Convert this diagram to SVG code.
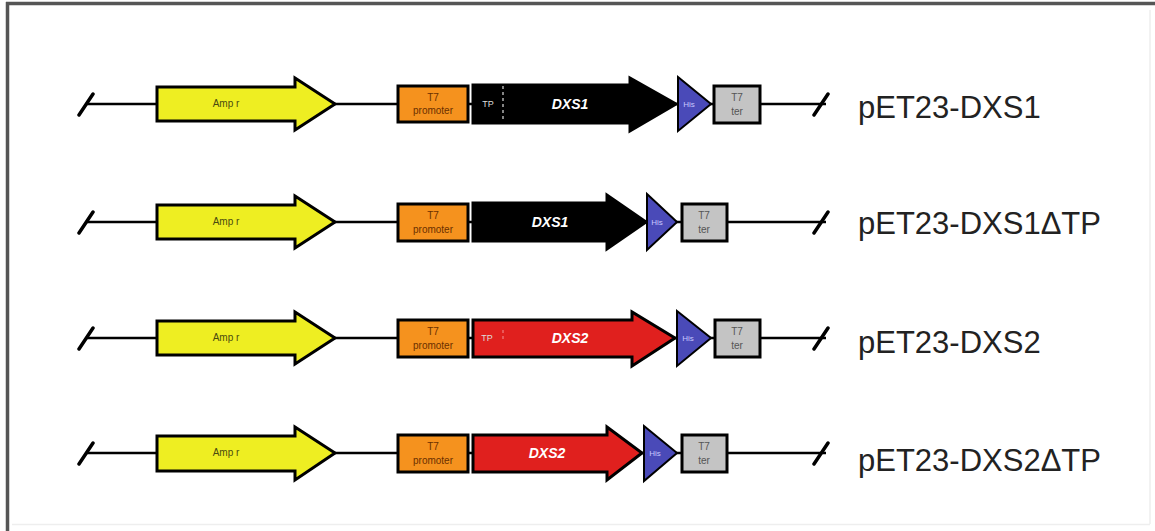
<svg xmlns="http://www.w3.org/2000/svg" width="1155" height="531" viewBox="0 0 1155 531">
<style>
.bb{stroke:#000;stroke-width:2.5;fill:none}
.sl{stroke:#000;stroke-width:3.5;fill:none;stroke-linecap:round}
.amp{fill:#eeee22;stroke:#000;stroke-width:3;stroke-linejoin:miter}
.pro{fill:#f5921e;stroke:#000;stroke-width:3}
.blk{fill:#000;stroke:#000;stroke-width:3}
.red{fill:#e0201e;stroke:#000;stroke-width:3}
.his{fill:#4a4ab8;stroke:#000;stroke-width:2}
.ter{fill:#c4c4c4;stroke:#000;stroke-width:3}
.t{font-family:"Liberation Sans",Arial,sans-serif;text-anchor:middle}
.ta{font-size:10px;fill:#4a4a10}
.tp{font-size:10px;fill:#6a3000}
.tt{font-size:10px;fill:#555}
.th{font-size:8px;fill:#c8c8ff}
.tg{font-size:14px;font-weight:bold;font-style:italic;fill:#fff}
.ts{font-size:9px;fill:#ddd}
.lab{font-family:"Liberation Sans",Arial,sans-serif;font-size:31px;fill:#222}
</style>
<rect x="0" y="0" width="1155" height="531" fill="#fff"/>
<line x1="6" y1="3.5" x2="1155" y2="3.5" stroke="#555" stroke-width="3.5"/>
<line x1="7.5" y1="2" x2="7.5" y2="531" stroke="#555" stroke-width="3.5"/>
<line x1="1150" y1="10" x2="1150" y2="524" stroke="#eee" stroke-width="1.5"/>
<line x1="12" y1="524.5" x2="1150" y2="524.5" stroke="#eee" stroke-width="1.5"/>

<g id="connectors">
<line class="bb" x1="86" y1="104" x2="826" y2="104"/>
<line class="bb" x1="86" y1="222" x2="826" y2="222"/>
<line class="bb" x1="86" y1="338" x2="826" y2="338"/>
<line class="bb" x1="86" y1="453" x2="826" y2="453"/>
<path class="sl" d="M79 115L93 94M814 115L828 94M79 233L93 212M814 233L828 212M79 349L93 328M814 349L828 328M79 464L93 443M814 464L828 443"/>
</g>

<g id="row1">
<g id="amp1"><polygon class="amp" points="157,87 295,87 295,78 335,104 295,130 295,121 157,121"/><text class="t ta" x="226" y="107">Amp r</text></g>
<g id="prom1"><rect class="pro" x="398" y="86" width="70" height="36"/><text class="t tp" x="433" y="101">T7</text><text class="t tp" x="433" y="114">promoter</text></g>
<g id="gene1"><polygon class="blk" points="473,85 630,85 630,78 676,104 630,131 630,123 473,123"/><line x1="503" y1="86" x2="503" y2="122" stroke="#ddd" stroke-width="1.2" stroke-dasharray="3,3"/><text class="t ts" x="488" y="107">TP</text><text class="t tg" x="570" y="109">DXS1</text></g>
<g id="his1"><polygon class="his" points="678,77 711,104 678,131"/><text class="t th" x="689" y="107">His</text></g>
<g id="ter1"><rect class="ter" x="714" y="86" width="46" height="37"/><text class="t tt" x="737" y="101">T7</text><text class="t tt" x="737" y="115">ter</text></g>
<text id="lab1" class="lab" x="858" y="118">pET23-DXS1</text>
</g>

<g id="row2">
<g id="amp2"><polygon class="amp" points="157,205 295,205 295,196 335,222 295,248 295,239 157,239"/><text class="t ta" x="226" y="225">Amp r</text></g>
<g id="prom2"><rect class="pro" x="398" y="204" width="70" height="37"/><text class="t tp" x="433" y="219">T7</text><text class="t tp" x="433" y="233">promoter</text></g>
<g id="gene2"><polygon class="blk" points="473,203 607,203 607,195 646,222 607,249 607,241 473,241"/><text class="t tg" x="550" y="227">DXS1</text></g>
<g id="his2"><polygon class="his" points="647,194 677,222 647,250"/><text class="t th" x="657" y="225">His</text></g>
<g id="ter2"><rect class="ter" x="682" y="204" width="45" height="37"/><text class="t tt" x="704" y="219">T7</text><text class="t tt" x="704" y="233">ter</text></g>
<text id="lab2" class="lab" x="858" y="234">pET23-DXS1ΔTP</text>
</g>

<g id="row3">
<g id="amp3"><polygon class="amp" points="157,321 295,321 295,312 335,338 295,364 295,355 157,355"/><text class="t ta" x="226" y="341">Amp r</text></g>
<g id="prom3"><rect class="pro" x="398" y="320" width="70" height="37"/><text class="t tp" x="433" y="335">T7</text><text class="t tp" x="433" y="349">promoter</text></g>
<g id="gene3"><polygon class="red" points="473,320 632,320 632,312 675,338 632,366 632,357 473,357"/><line x1="503" y1="330" x2="503" y2="340" stroke="#f08080" stroke-width="1.2" stroke-dasharray="3,3"/><text class="t ts" x="487" y="341">TP</text><text class="t tg" x="570" y="343">DXS2</text></g>
<g id="his3"><polygon class="his" points="677,311 711,338 677,366"/><text class="t th" x="688" y="341">His</text></g>
<g id="ter3"><rect class="ter" x="715" y="320" width="45" height="37"/><text class="t tt" x="737" y="335">T7</text><text class="t tt" x="737" y="349">ter</text></g>
<text id="lab3" class="lab" x="858" y="353">pET23-DXS2</text>
</g>

<g id="row4">
<g id="amp4"><polygon class="amp" points="157,436 295,436 295,427 335,453 295,480 295,471 157,471"/><text class="t ta" x="226" y="456">Amp r</text></g>
<g id="prom4"><rect class="pro" x="398" y="435" width="70" height="37"/><text class="t tp" x="433" y="450">T7</text><text class="t tp" x="433" y="464">promoter</text></g>
<g id="gene4"><polygon class="red" points="473,435 607,435 607,427 642,453 607,480 607,472 473,472"/><text class="t tg" x="547" y="458">DXS2</text></g>
<g id="his4"><polygon class="his" points="644,426 677,453 644,481"/><text class="t th" x="655" y="456">His</text></g>
<g id="ter4"><rect class="ter" x="682" y="435" width="45" height="37"/><text class="t tt" x="704" y="450">T7</text><text class="t tt" x="704" y="464">ter</text></g>
<text id="lab4" class="lab" x="858" y="471">pET23-DXS2ΔTP</text>
</g>
</svg>
